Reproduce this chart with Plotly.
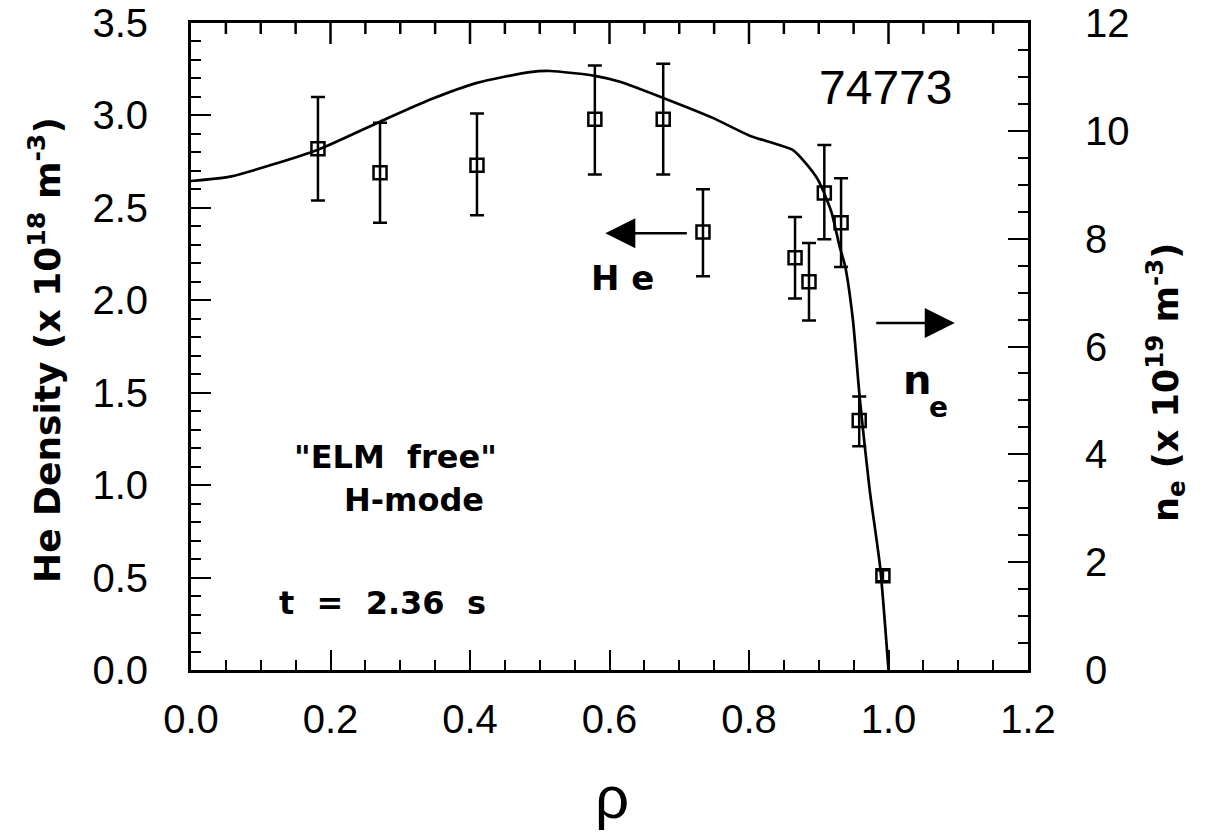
import plotly.graph_objects as go

# He density measurements (left axis)
rho_he = [0.182, 0.271, 0.410, 0.579, 0.677, 0.734, 0.866, 0.886, 0.908, 0.932, 0.958, 0.992]
he_density = [2.82, 2.69, 2.73, 2.98, 2.98, 2.37, 2.23, 2.10, 2.58, 2.42, 1.35, 0.51]
he_err_plus = [0.28, 0.27, 0.28, 0.29, 0.30, 0.23, 0.22, 0.21, 0.26, 0.24, 0.13, 0.03]
he_err_minus = [0.28, 0.27, 0.27, 0.30, 0.30, 0.24, 0.22, 0.21, 0.25, 0.24, 0.14, 0.03]

# electron density profile (right axis)
rho_ne = [0.0, 0.056, 0.182, 0.271, 0.343, 0.410, 0.486, 0.515, 0.579, 0.615, 0.677,
          0.748, 0.801, 0.862, 0.880, 0.899, 0.918, 0.930, 0.938, 0.949, 0.959, 0.973,
          0.988, 1.0]
ne = [9.07, 9.15, 9.65, 10.17, 10.58, 10.89, 11.09, 11.11, 11.02, 10.91, 10.61,
      10.24, 9.91, 9.65, 9.42, 9.09, 8.50, 7.85, 7.48, 6.49, 5.01, 3.34, 1.91, 0.0]

x_ticks = [0.0, 0.2, 0.4, 0.6, 0.8, 1.0, 1.2]
x_tick_labels = ["0.0", "0.2", "0.4", "0.6", "0.8", "1.0", "1.2"]
y_ticks = [0.0, 0.5, 1.0, 1.5, 2.0, 2.5, 3.0, 3.5]
y_tick_labels = ["0.0", "0.5", "1.0", "1.5", "2.0", "2.5", "3.0", "3.5"]
y2_ticks = [0, 2, 4, 6, 8, 10, 12]
y2_tick_labels = ["0", "2", "4", "6", "8", "10", "12"]
X_MINOR_STEP = 0.05

TICKFONT = dict(family="Liberation Sans, Arial, sans-serif", size=40, color="black")
BOLD = "DejaVu Sans, sans-serif"

fig = go.Figure()
fig.add_trace(go.Scatter(
    x=rho_ne, y=ne, mode="lines", yaxis="y2",
    line=dict(color="black", width=2.7, shape="spline", smoothing=0.6),
    showlegend=False, hoverinfo="skip"))
fig.add_trace(go.Scatter(
    x=rho_he, y=he_density, mode="markers",
    marker=dict(symbol="square-open", size=13, color="black", line=dict(width=2.5, color="black")),
    error_y=dict(type="data", symmetric=False, array=he_err_plus, arrayminus=he_err_minus,
                 color="black", thickness=2.5, width=7),
    showlegend=False))

W, H = 1211, 837
ml, mr, mt, mb = 191, 183, 23, 167
PH = H - mt - mb
Y_TOP = y_ticks[-1]

tick_common = dict(ticks="inside", ticklen=20, tickwidth=2, tickcolor="black",
                   showline=True, linewidth=3, linecolor="black", automargin=False,
                   showgrid=False, zeroline=False, tickfont=TICKFONT)

fig.update_layout(
    template="none",
    width=W, height=H, margin=dict(l=ml, r=mr, t=mt, b=mb),
    paper_bgcolor="white", plot_bgcolor="white",
    xaxis=dict(range=[0, 1.2], tickvals=x_ticks, ticktext=x_tick_labels, mirror=True,
               minor=dict(dtick=X_MINOR_STEP, ticks="inside", ticklen=10, tickwidth=2, tickcolor="black"),
               ticklabelstandoff=12, **tick_common),
    yaxis=dict(range=[0, Y_TOP], tickvals=y_ticks, ticktext=y_tick_labels,
               minor=dict(dtick=0.1, ticks="inside", ticklen=10, tickwidth=2, tickcolor="black"),
               ticklabelstandoff=32, **tick_common),
    yaxis2=dict(range=[0, 12], tickvals=y2_ticks, ticktext=y2_tick_labels, overlaying="y", side="right",
                minor=dict(dtick=0.5, ticks="inside", ticklen=10, tickwidth=2, tickcolor="black"),
                ticklabelstandoff=46, **tick_common),
)

# top-edge ticks (mirror of the rho axis), generated from the axis tick spacing
n_minor = int(round((x_ticks[-1] - x_ticks[0]) / X_MINOR_STEP))
for i in range(1, n_minor):
    v = x_ticks[0] + i * X_MINOR_STEP
    is_major = any(abs(v - t) < 1e-9 for t in x_ticks)
    length_px = 21 if is_major else 11
    fig.add_shape(type="line", xref="x", yref="y", x0=v, x1=v,
                  y0=Y_TOP, y1=Y_TOP - length_px / PH * Y_TOP,
                  line=dict(color="black", width=2.5), layer="above")

def ann(text, x, y, size, family=BOLD, **kw):
    fig.add_annotation(text=text, x=x, y=y, xref="x", yref="y", showarrow=False,
                       font=dict(family=family, size=size, color="black"), **kw)

ann("74773", 0.995, 3.153, 48, family="Liberation Sans, Arial, sans-serif")
ann("<b>\"ELM  free\"</b>", 0.2925, 1.152, 32)
ann("<b>H-mode</b>", 0.320, 0.919, 32)
ann("<b>t  =  2.36  s</b>", 0.275, 0.362, 32)
ann("<b>H e</b>", 0.619, 2.12, 34)
ann("<b>n</b>", 1.041, 1.568, 40)
ann("<b>e</b>", 1.071, 1.422, 28)

# arrows
fig.add_annotation(x=0.594, y=2.363, xref="x", yref="y", ax=83, ay=0, text="",
                   showarrow=True, arrowhead=2, arrowsize=2.4, arrowwidth=2.5, arrowcolor="black")
fig.add_annotation(x=1.095, y=1.877, xref="x", yref="y", ax=-80, ay=0, text="",
                   showarrow=True, arrowhead=2, arrowsize=2.4, arrowwidth=2.5, arrowcolor="black")

# axis titles
fig.add_annotation(text="<b>He Density (x 10<sup>18</sup> m<sup>-3</sup>)</b>",
                   x=(45 - ml) / (W - ml - mr), y=(670 - 350) / PH, xref="paper", yref="paper",
                   showarrow=False, textangle=-90, xanchor="center", yanchor="middle",
                   font=dict(family=BOLD, size=36, color="black"))
fig.add_annotation(text="<b>n<sub>e</sub> (x 10<sup>19</sup> m<sup>-3</sup>)</b>",
                   x=(1165 - ml) / (W - ml - mr), y=(670 - 383) / PH, xref="paper", yref="paper",
                   showarrow=False, textangle=-90, xanchor="center", yanchor="middle",
                   font=dict(family=BOLD, size=35, color="black"))
fig.add_annotation(text="ρ", x=(612 - ml) / (W - ml - mr), y=(670 - 797) / PH,
                   xref="paper", yref="paper", showarrow=False, xanchor="center", yanchor="middle",
                   font=dict(family="Liberation Sans, Arial, sans-serif", size=60, color="black"))

fig.write_html("out.html")
